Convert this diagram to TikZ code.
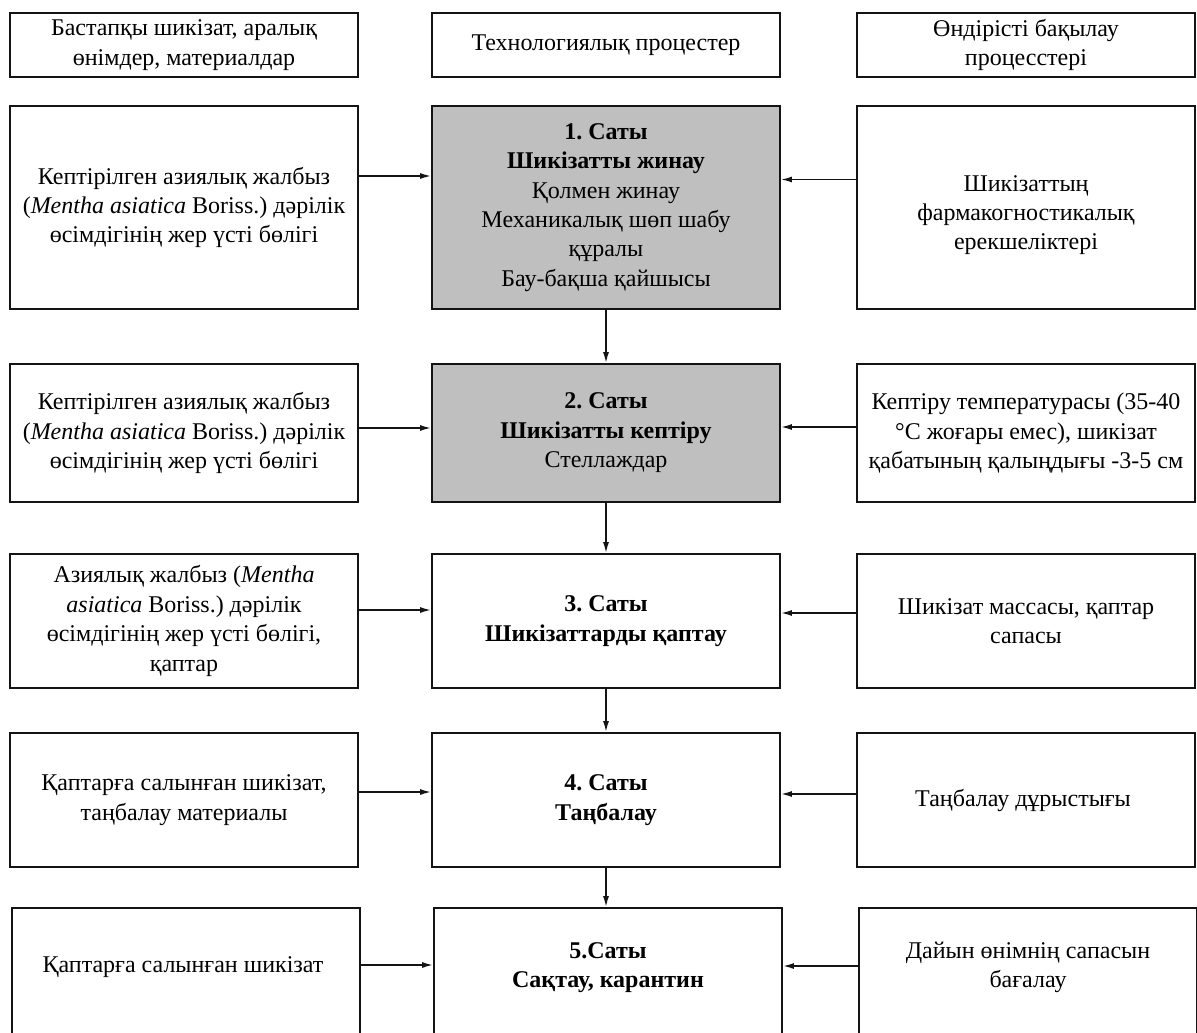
\documentclass[tikz,border=0pt]{standalone}
\usepackage{fontspec}
\setmainfont{Liberation Serif}
\usetikzlibrary{positioning, calc, arrows.meta}
\definecolor{stepGray} {RGB}{191,191,191}
\definecolor{lineBlack}{RGB}{ 20, 20, 20}
\frenchspacing
\tikzset{
  %% plain box of the scheme
  cell/.style={
    rectangle, draw=lineBlack, line width=0.9pt,
    align=center, font=\fontsize{12}{14.7}\selectfont,
    inner sep=3pt, fill=white
  },
  colL/.style={cell, minimum width=174pt},
  colM/.style={cell, minimum width=174pt},
  colR/.style={cell, minimum width=169pt},
  %% shaded step box
  stepG/.style={fill=stepGray},
  %% flow arrow
  arr/.style={
    -{Latex[length=5.5pt,width=3pt]},
    line width=0.8pt, color=lineBlack
  }
}
\begin{document}
\begin{tikzpicture}[x=0.5pt, y=-0.5pt]
\useasboundingbox (0,0) rectangle (1197,1032);
\clip (0,0) rectangle (1197,1032);

%% ═══════════════════════════════════════════
%%  COLUMN HEADERS
%% ═══════════════════════════════════════════
\node[colL, minimum height=32pt] (hIn)   at (184,45)  {Бастапқы шикізат, аралық\\өнімдер, материалдар};
\node[colM, minimum height=32pt] (hTech) at (606,45)  {Технологиялық процестер};
\node[colR, minimum height=32pt] (hCtrl) at (1026,45) {Өндірісті бақылау\\процесстері};

%% ═══════════════════════════════════════════
%%  STEP 1
%% ═══════════════════════════════════════════
\node[colL, minimum height=101.5pt] (in1) at (184,207.5) {
  Кептірілген азиялық жалбыз\\
  (\textit{Mentha asiatica} Boriss.) дәрілік\\
  өсімдігінің жер үсті бөлігі
};
\node[colM, stepG, minimum height=101.5pt] (st1) at (606,207.5) {
  \textbf{1. Саты}\\
  \textbf{Шикізатты жинау}\\
  Қолмен жинау\\
  Механикалық шөп шабу\\
  құралы\\
  Бау-бақша қайшысы
};
\node[colR, minimum height=101.5pt, text height=45pt] (ct1) at (1026,207.5) {
  Шикізаттың\\
  фармакогностикалық\\
  ерекшеліктері
};

%% ═══════════════════════════════════════════
%%  STEP 2
%% ═══════════════════════════════════════════
\node[colL, minimum height=69pt] (in2) at (184,433) {
  Кептірілген азиялық жалбыз\\
  (\textit{Mentha asiatica} Boriss.) дәрілік\\
  өсімдігінің жер үсті бөлігі
};
\node[colM, stepG, minimum height=69pt] (st2) at (606,433) {
  \textbf{2. Саты}\\
  \textbf{Шикізатты кептіру}\\
  Стеллаждар
};
\node[colR, minimum height=69pt] (ct2) at (1026,433) {
  Кептіру температурасы (35-40\\
  °С жоғары емес), шикізат\\
  қабатының қалыңдығы -3-5 см
};

%% ═══════════════════════════════════════════
%%  STEP 3
%% ═══════════════════════════════════════════
\node[colL, minimum height=67pt] (in3) at (184,621) {
  Азиялық жалбыз (\textit{Mentha}\\
  \textit{asiatica} Boriss.) дәрілік\\
  өсімдігінің жер үсті бөлігі,\\
  қаптар
};
\node[colM, minimum height=67pt] (st3) at (606,621) {
  \textbf{3. Саты}\\
  \textbf{Шикізаттарды қаптау}
};
\node[colR, minimum height=67pt] (ct3) at (1026,621) {
  Шикізат массасы, қаптар\\
  сапасы
};

%% ═══════════════════════════════════════════
%%  STEP 4
%% ═══════════════════════════════════════════
\node[colL, minimum height=67pt] (in4) at (184,800) {
  Қаптарға салынған шикізат,\\
  таңбалау материалы
};
\node[colM, minimum height=67pt] (st4) at (606,800) {
  \textbf{4. Саты}\\
  \textbf{Таңбалау}
};
\node[colR, minimum height=67pt] (ct4) at (1026,800) {
  Таңбалау дұрыстығы
};

%% ═══════════════════════════════════════════
%%  STEP 5  (runs off the lower edge)
%% ═══════════════════════════════════════════
\node[colL, minimum height=70pt, text depth=13pt] (in5) at (186,978) {
  Қаптарға салынған шикізат
};
\node[colM, minimum height=70pt, text depth=13pt] (st5) at (608,978) {
  \textbf{5.Саты}\\
  \textbf{Сақтау, карантин}
};
\node[colR, minimum height=70pt, text depth=13pt] (ct5) at (1028,978) {
  Дайын өнімнің сапасын\\
  бағалау
};

%% inputs -> steps
\draw[arr] ([yshift=15.75pt]in1.east) -- ([yshift=15.75pt]in1.east -| st1.west);
\draw[arr] ([yshift=2.5pt]in2.east)   -- ([yshift=2.5pt]in2.east -| st2.west);
\draw[arr] ([yshift=5.5pt]in3.east)   -- ([yshift=5.5pt]in3.east -| st3.west);
\draw[arr] ([yshift=4pt]in4.east)     -- ([yshift=4pt]in4.east -| st4.west);
\draw[arr] ([yshift=6.5pt]in5.east)   -- ([yshift=6.5pt]in5.east -| st5.west);

%% control -> steps
\draw[arr] ([yshift=14pt]ct1.west)  -- ([yshift=14pt]ct1.west -| st1.east);
\draw[arr] ([yshift=3pt]ct2.west)   -- ([yshift=3pt]ct2.west -| st2.east);
\draw[arr] ([yshift=4pt]ct3.west)   -- ([yshift=4pt]ct3.west -| st3.east);
\draw[arr] ([yshift=3pt]ct4.west)   -- ([yshift=3pt]ct4.west -| st4.east);
\draw[arr] ([yshift=6pt]ct5.west)   -- ([yshift=6pt]ct5.west -| st5.east);

%% step chain
\draw[arr] (st1.south) -- (st2.north);
\draw[arr] (st2.south) -- (st3.north);
\draw[arr] (st3.south) -- (st4.north);
\draw[arr] (st4.south) -- (st5.north -| st4.south);

\end{tikzpicture}
\end{document}
